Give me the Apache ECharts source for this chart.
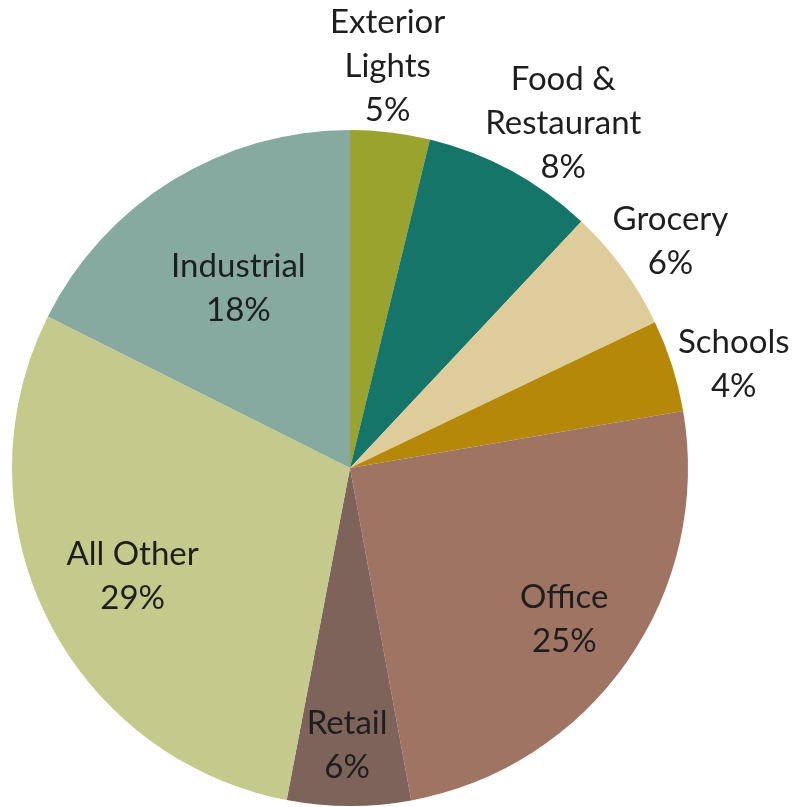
<!DOCTYPE html>
<html><head><meta charset="utf-8">
<script src="https://cdn.jsdelivr.net/npm/echarts@6/dist/echarts.min.js"></script>
<style>html,body{margin:0;padding:0;background:#fff}#c{width:795px;height:807px}</style>
</head><body><div id="c"></div>
<script>
const categories = ["Exterior\nLights", "Food &\nRestaurant", "Grocery", "Schools", "Office", "Retail", "All Other", "Industrial"];
const values = [3.8, 8.2, 5.9, 4.4, 24.8, 5.9, 29.4, 17.6];
const percentLabels = ["5%", "8%", "6%", "4%", "25%", "6%", "29%", "18%"];
const colors = ["#9aa32e", "#147568", "#dfcc9b", "#b5880a", "#a07463", "#7e635a", "#c3ca8c", "#87aaa0"];
const labelRadius = [1.2, 1.21, 1.14, 1.17, 0.775, 0.82, 0.715, 0.62];
const labelOffset = [[-11, 4], [17, 18], [7, 3], [4, 17], [-3, 0], [-2, -3], [2, 0], [0, 1]];

const cx = 350, cy = 468, R = 338;
const chart = echarts.init(document.getElementById('c'), null, {renderer: 'canvas'});
const baseData = categories.map((n, i) => ({name: n, value: values[i], itemStyle: {color: colors[i]}}));
const series = [{
  type: 'pie', center: [cx, cy], radius: [0, R], startAngle: 90, clockwise: true,
  silent: true, label: {show: false}, labelLine: {show: false},
  data: baseData
}];
categories.forEach((n, k) => {
  const rr = labelRadius[k] * R;
  series.push({
    type: 'pie', center: [cx, cy], radius: [rr - 1, rr + 1], startAngle: 90, clockwise: true,
    silent: true, avoidLabelOverlap: false, labelLine: {show: false},
    itemStyle: {color: 'rgba(0,0,0,0)'},
    label: {show: false},
    data: categories.map((m, i) => ({
      name: m, value: values[i],
      label: i === k ? {
        show: true, position: 'inside', offset: labelOffset[i],
        formatter: m + '\n' + percentLabels[i],
        fontFamily: 'Lato', fontSize: 33, lineHeight: 44, color: '#1e1e1e', align: 'center'
      } : {show: false}
    }))
  });
});
chart.setOption({animation: false, series});
</script></body></html>
